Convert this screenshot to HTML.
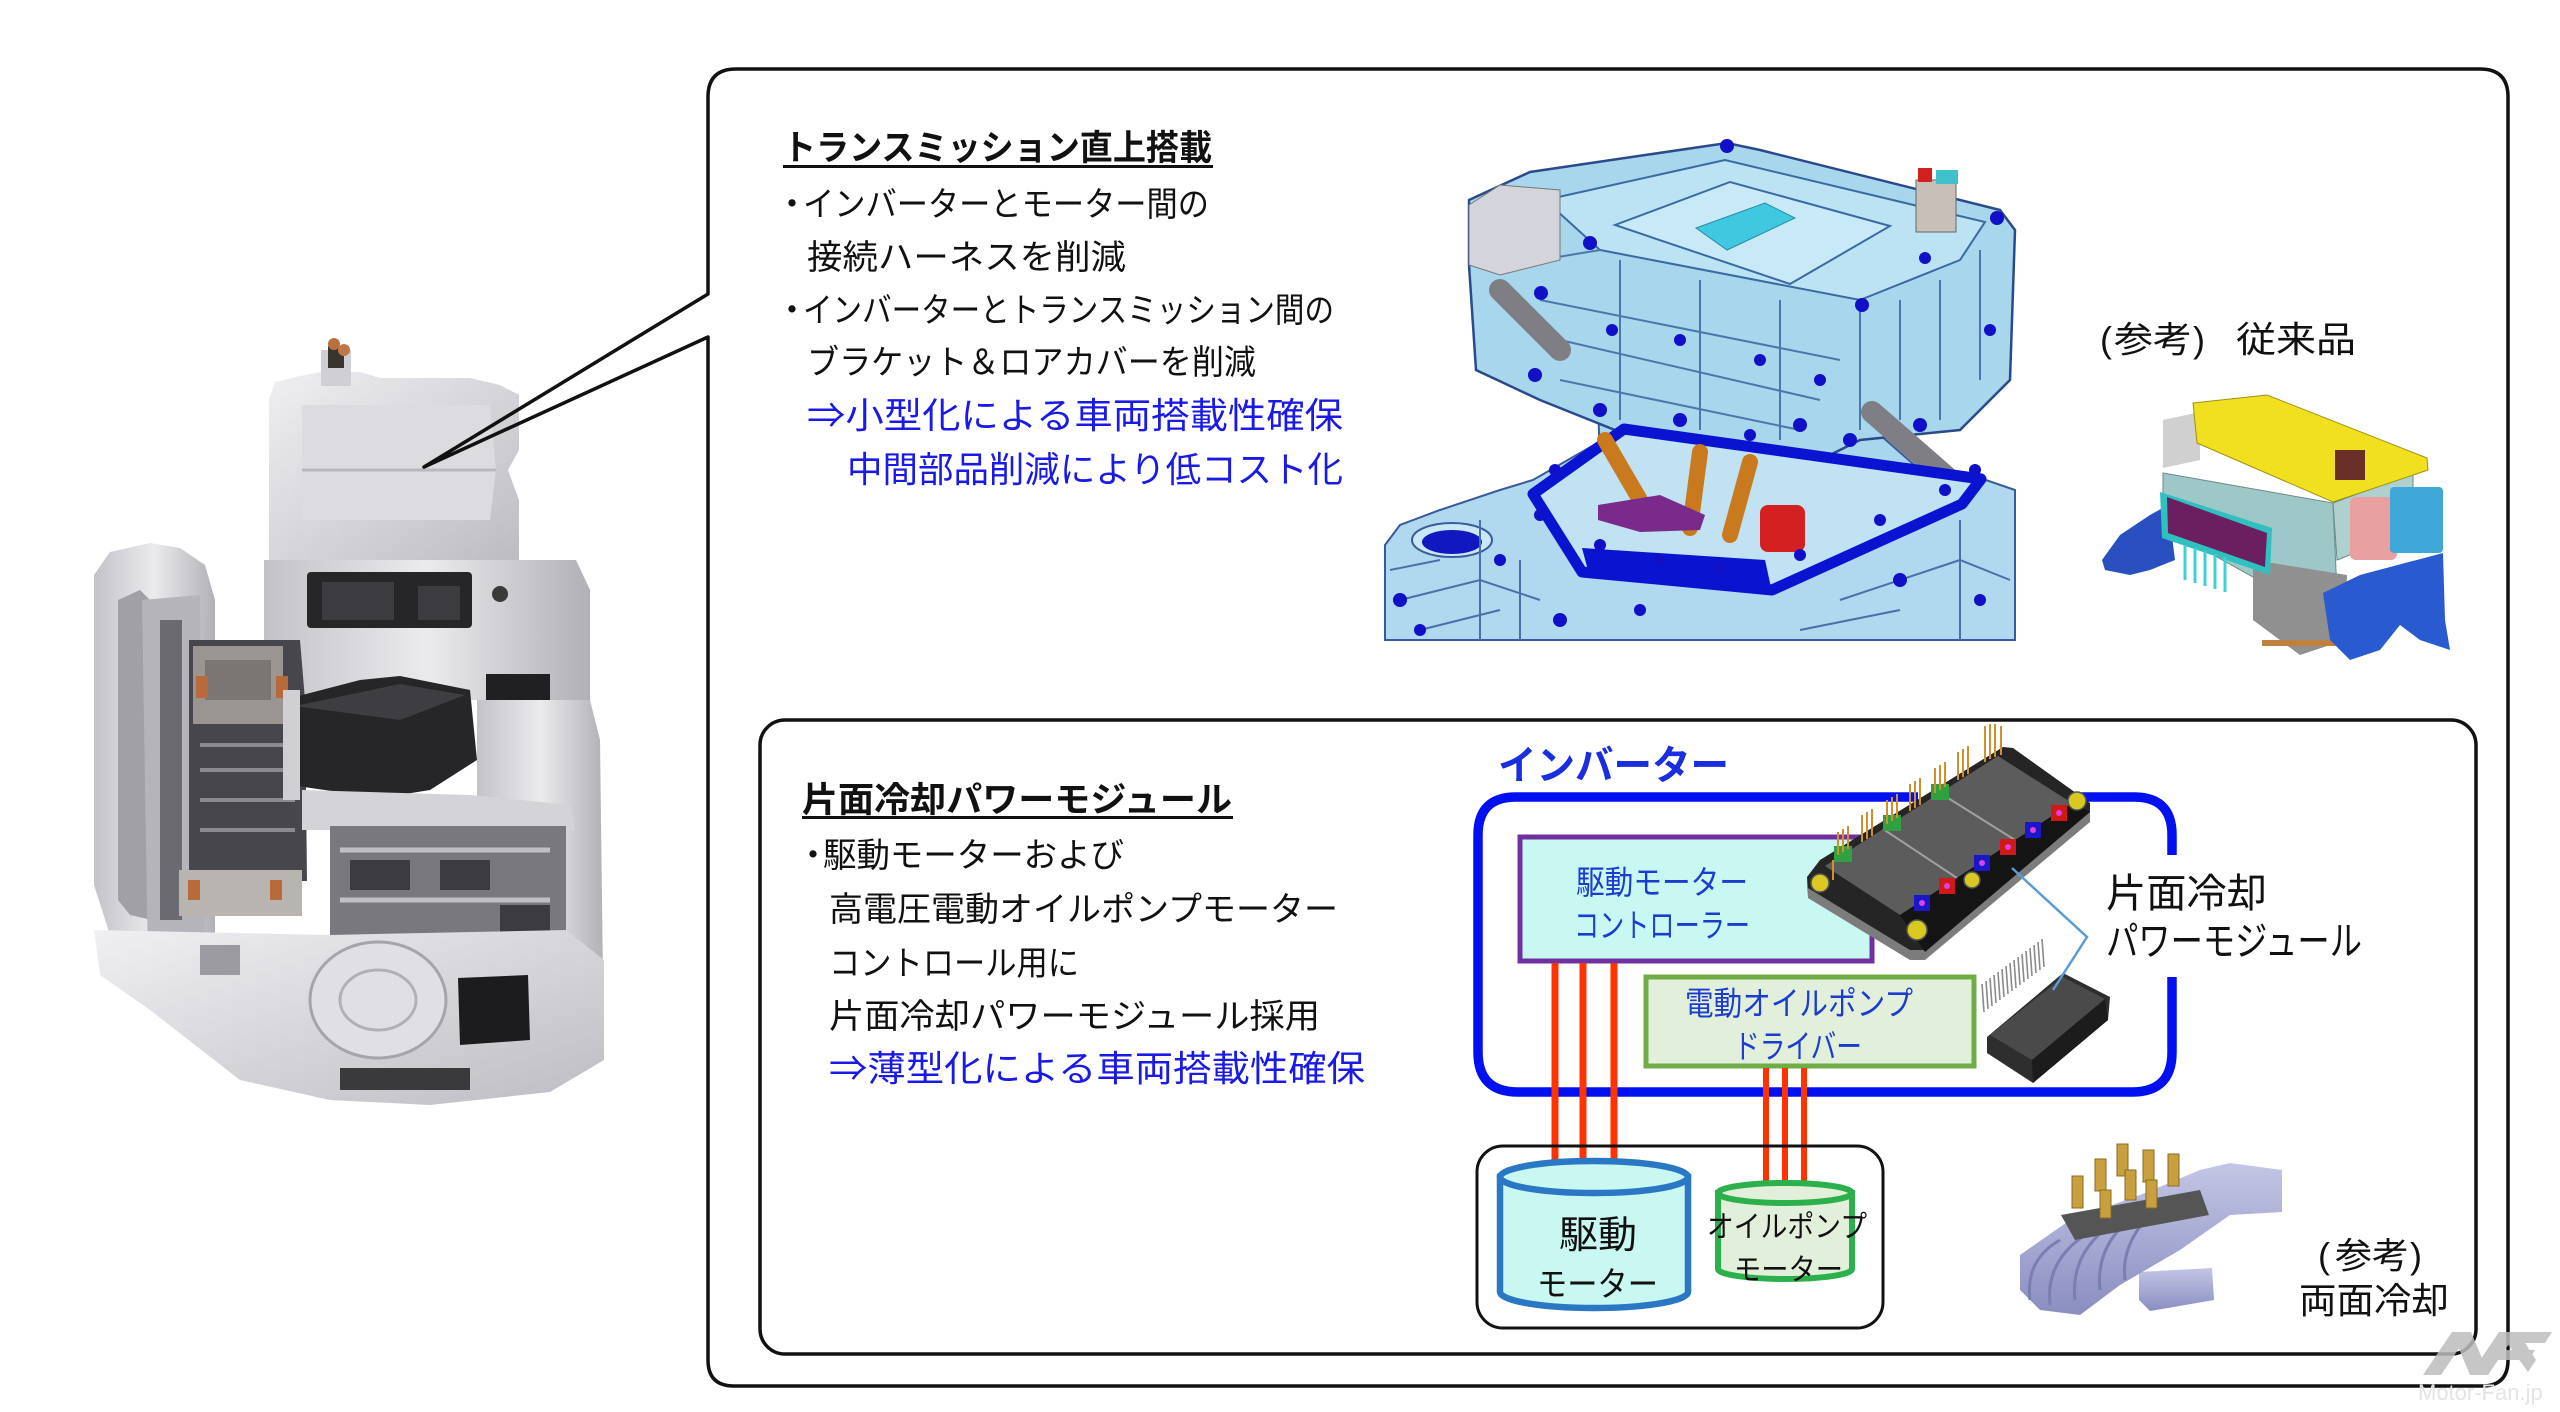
<!DOCTYPE html>
<html><head><meta charset="utf-8">
<style>
html,body{margin:0;padding:0;background:#fff;}
svg{display:block;}
</style></head>
<body>
<svg width="2560" height="1412" viewBox="0 0 2560 1412" xmlns="http://www.w3.org/2000/svg">
<defs>
<linearGradient id="metal" x1="0" y1="0" x2="1" y2="1"><stop offset="0" stop-color="#f0f0f3"/><stop offset="1" stop-color="#bcbcc2"/></linearGradient>
<linearGradient id="metal2" x1="0" y1="0" x2="1" y2="0"><stop offset="0" stop-color="#c2c2c8"/><stop offset=".5" stop-color="#ebebee"/><stop offset="1" stop-color="#b0b0b6"/></linearGradient>
<linearGradient id="tube" x1="0" y1="0" x2="0" y2="1"><stop offset="0" stop-color="#c4c6e6"/><stop offset="1" stop-color="#8a8ec0"/></linearGradient>
</defs>
<rect width="2560" height="1412" fill="#fff"/>

<!-- ===== ENGINE (left) ===== -->
<g>
<!-- upper inverter block -->
<polygon points="269,400 275,382 300,376 320,372 360,372 380,378 470,378 500,385 519,395 519,450 508,470 519,500 519,560 269,560" fill="url(#metal)"/>
<polygon points="302,405 490,405 496,470 490,520 302,520" fill="#dcdce0"/>
<line x1="302" y1="470" x2="496" y2="470" stroke="#b8b8be" stroke-width="3"/>
<rect x="321" y="350" width="30" height="36" fill="#d0d0d4"/>
<rect x="328" y="346" width="16" height="22" fill="#3a3430"/>
<circle cx="334" cy="344" r="6" fill="#b87040"/>
<circle cx="344" cy="350" r="6" fill="#c07848"/>
<!-- middle block -->
<polygon points="264,560 576,560 590,590 590,700 264,700" fill="url(#metal2)"/>
<rect x="307" y="572" width="165" height="56" rx="4" fill="#262629"/>
<rect x="322" y="582" width="72" height="38" fill="#3c3c40"/>
<rect x="418" y="586" width="42" height="34" fill="#3c3c40"/>
<circle cx="500" cy="594" r="8" fill="#3a3a3a"/>
<!-- left bell housing -->
<polygon points="94,575 110,552 150,543 180,548 205,565 215,600 215,960 190,975 140,962 110,935 94,885" fill="url(#metal2)"/>
<polygon points="118,600 140,590 150,600 152,920 130,915 118,900" fill="#a0a0a6"/>
<!-- frame and interior -->
<polygon points="142,600 200,595 205,960 148,965" fill="#b4b4ba"/>
<rect x="160" y="620" width="22" height="300" fill="#6a6a70"/>
<polygon points="189,640 300,640 305,700 307,881 189,881" fill="#46464c"/>
<rect x="193" y="646" width="90" height="78" fill="#9a9590"/>
<rect x="205" y="660" width="66" height="40" fill="#7a7672"/>
<rect x="196" y="676" width="12" height="22" fill="#b86a3a"/>
<rect x="276" y="676" width="12" height="22" fill="#b86a3a"/>
<g stroke="#8a8a90" stroke-width="4"><line x1="200" y1="745" x2="295" y2="745"/><line x1="200" y1="770" x2="295" y2="770"/><line x1="200" y1="800" x2="295" y2="800"/><line x1="200" y1="830" x2="295" y2="830"/></g>
<rect x="179" y="870" width="123" height="46" fill="#b8b4b0"/>
<rect x="188" y="880" width="12" height="20" fill="#b86a3a"/>
<rect x="270" y="880" width="12" height="20" fill="#b86a3a"/>
<!-- ECU cover -->
<polygon points="283,700 360,680 400,676 470,690 477,760 430,790 380,798 290,785" fill="#262629"/>
<polygon points="295,706 400,684 465,695 400,720" fill="#3e3e42"/>
<polygon points="283,690 300,690 300,800 283,800" fill="#d0d0d4"/>
<rect x="486" y="674" width="64" height="54" fill="#202022"/>
<!-- right housing -->
<polygon points="477,700 590,700 600,740 604,1060 560,1070 477,1060" fill="url(#metal2)"/>
<!-- valve body area -->
<polygon points="302,790 470,795 570,805 575,830 302,830" fill="#d4d4d8"/>
<polygon points="330,826 566,826 566,940 330,940" fill="#78787e"/>
<g stroke="#c0c0c4" stroke-width="5"><line x1="340" y1="850" x2="550" y2="850"/><line x1="340" y1="900" x2="550" y2="900"/></g>
<g fill="#3c3c40"><rect x="350" y="860" width="60" height="30"/><rect x="440" y="860" width="50" height="30"/><rect x="500" y="905" width="50" height="28"/></g>
<!-- bottom -->
<polygon points="94,930 330,935 566,930 604,960 604,1060 550,1092 430,1105 330,1100 240,1080 150,1010 100,975" fill="url(#metal)"/>
<ellipse cx="378" cy="1000" rx="68" ry="58" fill="#e0e0e4" stroke="#a4a4aa" stroke-width="3"/>
<ellipse cx="378" cy="1000" rx="38" ry="30" fill="none" stroke="#b0b0b6" stroke-width="3"/>
<polygon points="458,978 528,975 530,1040 460,1045" fill="#1c1c1e"/>
<rect x="340" y="1068" width="130" height="22" fill="#3a3a3c"/>
<rect x="200" y="945" width="40" height="30" fill="#9a9aa0"/>
</g>

<!-- ===== BOXES ===== -->
<path d="M708,337 L424,467 L708,294 L708,97 Q708,69 736,69 L2480,69 Q2508,69 2508,97 L2508,1360 Q2508,1386 2482,1386 L734,1386 Q708,1386 708,1360 Z" fill="none" stroke="#111" stroke-width="3.5" stroke-linejoin="round"/>
<rect x="760" y="720" width="1716" height="634" rx="25" fill="none" stroke="#111" stroke-width="3.5"/>

<!-- ===== TOP CAD IMAGE ===== -->
<g>
<polygon points="1385,640 1385,545 1400,525 1440,510 1500,490 1533,480 1620,430 1700,440 1980,478 2015,490 2015,640" fill="#b0d8ee" stroke="#3a5a9a" stroke-width="2"/>
<ellipse cx="1452" cy="540" rx="40" ry="17" fill="#c8e8f6" stroke="#3a5a9a" stroke-width="2"/>
<ellipse cx="1452" cy="542" rx="30" ry="12" fill="#1018c0"/>
<path d="M1400,600 L1480,580 L1540,600 M1420,630 L1500,610 M1840,600 L1960,560 L2010,580 M1800,630 L1900,610 M1390,570 L1440,560 M1480,520 L1480,640 M1520,560 L1520,640 M1960,520 L1960,640" stroke="#4a70a8" stroke-width="2" fill="none"/>
<!-- middle connecting part -->
<polygon points="1598,397 1863,420 1920,470 1900,490 1600,470" fill="#a8d6ec" stroke="#3a5a9a" stroke-width="2"/>
<polygon points="1469,200 1530,172 1727,143 1760,150 2000,210 2015,230 2010,380 1960,430 1860,440 1800,470 1640,440 1540,400 1476,370 1469,265" fill="#a8d6ec" stroke="#2a4a8a" stroke-width="2.5"/>
<polygon points="1545,200 1725,160 1985,222 1960,260 1860,300 1600,250" fill="#bce3f4" stroke="#3a6aa0" stroke-width="2"/>
<polygon points="1615,225 1730,182 1890,226 1790,284" fill="#c8eaf8" stroke="#3a6aa0" stroke-width="2"/>
<polygon points="1696,228 1765,203 1795,218 1727,250" fill="#40c8e0" stroke="#2a8aa0"/>
<path d="M1540,300 L1840,360 M1560,340 L1820,400 M1620,260 L1620,420 M1700,280 L1700,430 M1780,300 L1780,440 M1900,300 L1900,420 M1540,260 L1600,250 M1860,300 L1860,430 M1940,280 L1940,420 M1980,250 L1980,380 M1560,380 L1800,430" stroke="#4a78a8" stroke-width="2" fill="none"/>
<polygon points="1469,205 1500,185 1560,190 1560,260 1500,275 1469,265" fill="#d4d4dc" stroke="#777"/>
<rect x="1916" y="180" width="40" height="52" fill="#c8c0b8" stroke="#666"/>
<rect x="1918" y="168" width="14" height="14" fill="#d02020"/>
<rect x="1936" y="170" width="22" height="14" fill="#40c0c8"/>
<line x1="1500" y1="290" x2="1560" y2="350" stroke="#7e7e84" stroke-width="22" stroke-linecap="round"/>
<line x1="1872" y1="412" x2="1950" y2="480" stroke="#7e7e84" stroke-width="22" stroke-linecap="round"/>
<polygon points="1533,494 1624,429 1981,479 1962,504 1772,590 1582,572" fill="#c0e2f2" stroke="#0a14d0" stroke-width="11" stroke-linejoin="round"/>
<polygon points="1582,548 1765,560 1772,592 1590,578" fill="#0a14d0"/>
<line x1="1605" y1="440" x2="1640" y2="500" stroke="#c97a1e" stroke-width="16" stroke-linecap="round"/>
<line x1="1700" y1="452" x2="1690" y2="528" stroke="#c97a1e" stroke-width="16" stroke-linecap="round"/>
<line x1="1750" y1="462" x2="1730" y2="535" stroke="#c97a1e" stroke-width="16" stroke-linecap="round"/>
<polygon points="1598,505 1660,495 1705,515 1700,530 1640,532 1598,520" fill="#7a2a8a"/>
<rect x="1760" y="505" width="45" height="47" rx="8" fill="#d42020"/>
<g fill="#1010c8">
<circle cx="1727" cy="146" r="7"/><circle cx="1997" cy="218" r="7"/><circle cx="1590" cy="243" r="7"/><circle cx="1541" cy="293" r="7"/><circle cx="1862" cy="305" r="7"/><circle cx="1925" cy="258" r="6"/><circle cx="1990" cy="330" r="6"/><circle cx="1535" cy="375" r="7"/><circle cx="1600" cy="410" r="7"/><circle cx="1680" cy="420" r="7"/><circle cx="1750" cy="435" r="6"/><circle cx="1800" cy="425" r="7"/><circle cx="1850" cy="440" r="7"/><circle cx="1920" cy="425" r="7"/><circle cx="1975" cy="470" r="6"/><circle cx="1555" cy="470" r="6"/><circle cx="1540" cy="515" r="6"/><circle cx="1600" cy="545" r="6"/><circle cx="1660" cy="560" r="6"/><circle cx="1720" cy="568" r="6"/><circle cx="1800" cy="555" r="6"/><circle cx="1880" cy="520" r="6"/><circle cx="1945" cy="490" r="6"/><circle cx="1400" cy="600" r="7"/><circle cx="1560" cy="620" r="7"/><circle cx="1640" cy="610" r="6"/><circle cx="1900" cy="580" r="7"/><circle cx="1980" cy="600" r="6"/><circle cx="1612" cy="330" r="6"/><circle cx="1680" cy="340" r="6"/><circle cx="1760" cy="360" r="6"/><circle cx="1820" cy="380" r="6"/><circle cx="1420" cy="630" r="6"/><circle cx="1500" cy="560" r="6"/>
</g>
</g>

<!-- ===== CONVENTIONAL PRODUCT ===== -->
<g>
<polygon points="2102,560 2120,535 2150,515 2168,505 2175,560 2150,570 2130,575 2105,570" fill="#2a50c0"/>
<polygon points="2163,473 2333,503 2337,593 2253,577 2163,527" fill="#9ec8c8" stroke="#6a8a8a"/>
<polygon points="2333,503 2413,473 2413,530 2337,560" fill="#b0d0d0" stroke="#6a8a8a"/>
<polygon points="2253,560 2347,575 2345,640 2300,655 2253,620" fill="#909090"/>
<rect x="2262" y="640" width="80" height="6" fill="#c08040"/>
<polygon points="2160,492 2272,528 2270,575 2162,538" fill="#30c0c0"/>
<polygon points="2167,497 2267,533 2265,567 2168,533" fill="#6a2060"/>
<g stroke="#40d0d0" stroke-width="3"><line x1="2185" y1="545" x2="2185" y2="580"/><line x1="2195" y1="548" x2="2195" y2="583"/><line x1="2205" y1="551" x2="2205" y2="586"/><line x1="2215" y1="554" x2="2215" y2="589"/><line x1="2225" y1="557" x2="2225" y2="592"/></g>
<polygon points="2163,420 2200,412 2200,460 2163,468" fill="#d0d0d0"/>
<polygon points="2193,403 2267,395 2427,458 2428,470 2333,502 2197,443" fill="#f0e020" stroke="#a09010"/>
<rect x="2335" y="450" width="30" height="30" fill="#6a3028"/>
<rect x="2350" y="497" width="47" height="63" rx="6" fill="#e8a0a0"/>
<rect x="2390" y="487" width="53" height="66" rx="4" fill="#40a8d8"/>
<polygon points="2323,593 2360,575 2443,553 2445,620 2450,650 2420,640 2400,625 2380,650 2350,660 2330,640" fill="#2a5ad0"/>
</g>

<!-- ===== INVERTER DIAGRAM ===== -->
<path d="M2172,855 L2172,835 Q2172,797 2134,797 L1516,797 Q1478,797 1478,835 L1478,1052 Q1478,1092 1518,1092 L2132,1092 Q2172,1092 2172,1052 L2172,977" fill="none" stroke="#0010f0" stroke-width="9.5"/>
<rect x="1520" y="837" width="352" height="124" fill="#c9f7f1" stroke="#7030a0" stroke-width="5"/>
<rect x="1646" y="977" width="328" height="89" fill="#e2efda" stroke="#70ad47" stroke-width="5"/>
<g stroke="#ff3300" stroke-width="7">
<line x1="1555" y1="963" x2="1555" y2="1172"/><line x1="1583" y1="963" x2="1583" y2="1172"/><line x1="1614" y1="963" x2="1614" y2="1172"/>
</g>
<g stroke="#ff3300" stroke-width="6">
<line x1="1766" y1="1068" x2="1766" y2="1196"/><line x1="1785" y1="1068" x2="1785" y2="1196"/><line x1="1804" y1="1068" x2="1804" y2="1196"/>
</g>
<rect x="1477" y="1146" width="406" height="182" rx="26" fill="none" stroke="#111" stroke-width="3"/>
<path d="M1500,1177 L1500,1292 A94,16 0 0 0 1688,1292 L1688,1177 Z" fill="#c9f7f1" stroke="#2a78c4" stroke-width="6.5"/>
<ellipse cx="1594" cy="1177" rx="94" ry="16" fill="#c9f7f1" stroke="#2a78c4" stroke-width="6.5"/>
<path d="M1718,1193 L1718,1269 A67,10 0 0 0 1852,1269 L1852,1193 Z" fill="#e2efda" stroke="#2cb04c" stroke-width="6"/>
<ellipse cx="1785" cy="1193" rx="67" ry="10" fill="#e2efda" stroke="#2cb04c" stroke-width="6"/>

<!-- power module -->
<rect x="1918" y="789" width="160" height="14" fill="#fff"/>
<polygon points="1807,877 1820,860 2003,747 2013,748 2090,803 2090,820 1925,958 1910,958 1808,897" fill="#252525"/>
<polygon points="1808,888 1910,950 1925,950 2090,812 2090,822 1925,960 1910,960 1808,898" fill="#7c7c7c"/>
<polygon points="1825,866 1998,756 2072,803 1900,915" fill="#5c5c5c"/>
<g stroke="#a0a0a0" stroke-width="2"><line x1="1883" y1="829" x2="1957" y2="878"/><line x1="1940" y1="793" x2="2015" y2="840"/></g>
<polygon points="1900,915 2072,803 2090,812 1925,952" fill="#141414"/>
<g fill="#1818c8"><rect x="1914" y="895" width="16" height="16"/><rect x="1974" y="855" width="16" height="16"/><rect x="2025" y="822" width="16" height="16"/></g>
<g fill="#d01818"><rect x="1939" y="878" width="16" height="16"/><rect x="2000" y="839" width="16" height="16"/><rect x="2051" y="805" width="16" height="16"/></g>
<g fill="#e040e0"><circle cx="1922" cy="903" r="3"/><circle cx="1947" cy="886" r="3"/><circle cx="1982" cy="863" r="3"/><circle cx="2008" cy="847" r="3"/><circle cx="2033" cy="830" r="3"/><circle cx="2059" cy="813" r="3"/></g>
<g fill="#30a040"><rect x="1834" y="846" width="18" height="16"/><rect x="1883" y="815" width="18" height="16"/><rect x="1931" y="784" width="18" height="16"/></g>
<g stroke="#d09030" stroke-width="2">
<line x1="1838" y1="855" x2="1838" y2="832"/><line x1="1843" y1="852" x2="1843" y2="829"/><line x1="1848" y1="849" x2="1848" y2="826"/>
<line x1="1862" y1="842" x2="1862" y2="815"/><line x1="1867" y1="839" x2="1867" y2="812"/><line x1="1872" y1="836" x2="1872" y2="809"/>
<line x1="1887" y1="824" x2="1887" y2="800"/><line x1="1892" y1="821" x2="1892" y2="797"/><line x1="1897" y1="818" x2="1897" y2="794"/>
<line x1="1910" y1="811" x2="1910" y2="784"/><line x1="1915" y1="808" x2="1915" y2="781"/><line x1="1920" y1="805" x2="1920" y2="778"/>
<line x1="1935" y1="793" x2="1935" y2="768"/><line x1="1940" y1="790" x2="1940" y2="765"/><line x1="1945" y1="787" x2="1945" y2="762"/>
<line x1="1958" y1="780" x2="1958" y2="752"/><line x1="1963" y1="777" x2="1963" y2="749"/><line x1="1968" y1="774" x2="1968" y2="746"/>
<line x1="1985" y1="762" x2="1985" y2="726"/><line x1="1990" y1="759" x2="1990" y2="724"/><line x1="1995" y1="757" x2="1995" y2="724"/><line x1="2001" y1="755" x2="2001" y2="726"/>
<line x1="1833" y1="880" x2="1833" y2="860"/>
</g>
<g fill="#d8c820" stroke="#555" stroke-width="1.5"><circle cx="1820" cy="883" r="9"/><circle cx="1917" cy="930" r="10"/><circle cx="2077" cy="801" r="9"/><circle cx="1972" cy="880" r="8"/></g>

<!-- IPM -->
<g stroke="#8a8a8a" stroke-width="1.6">
<line x1="1984" y1="1012" x2="1982" y2="984"/><line x1="1988" y1="1009" x2="1986" y2="981"/><line x1="1992" y1="1006" x2="1990" y2="978"/><line x1="1996" y1="1003" x2="1994" y2="975"/><line x1="2000" y1="1000" x2="1998" y2="972"/><line x1="2004" y1="997" x2="2002" y2="969"/><line x1="2008" y1="994" x2="2006" y2="966"/><line x1="2012" y1="991" x2="2010" y2="963"/><line x1="2016" y1="988" x2="2014" y2="960"/><line x1="2020" y1="985" x2="2018" y2="957"/><line x1="2024" y1="982" x2="2022" y2="954"/><line x1="2028" y1="979" x2="2026" y2="951"/><line x1="2032" y1="976" x2="2030" y2="948"/><line x1="2036" y1="973" x2="2034" y2="945"/><line x1="2040" y1="970" x2="2038" y2="942"/><line x1="2044" y1="967" x2="2042" y2="939"/>
</g>
<polygon points="1987,1037 2063,973 2110,997 2108,1020 2033,1083 1987,1053" fill="#2e2e2e"/>
<polygon points="1990,1035 2063,977 2105,999 2032,1060" fill="#4a4a4a"/>
<polygon points="2032,1060 2105,999 2108,1020 2033,1083" fill="#1c1c1c"/>
<polyline points="2012,868 2087,937 2053,990" fill="none" stroke="#5b9bd5" stroke-width="2.5"/>

<!-- double-side cooling -->
<g>
<polygon points="2139,1272 2212,1268 2214,1300 2150,1311 2139,1300" fill="url(#tube)"/>
<polygon points="2020,1255 2070,1220 2140,1195 2200,1170 2230,1163 2282,1170 2282,1212 2230,1215 2180,1250 2120,1285 2080,1315 2040,1310 2020,1290" fill="url(#tube)"/>
<g fill="none" stroke="#7a7eb0" stroke-width="3"><path d="M2030,1300 Q2025,1260 2060,1240"/><path d="M2050,1305 Q2045,1262 2085,1235"/><path d="M2075,1300 Q2070,1255 2110,1225"/><path d="M2100,1290 Q2095,1245 2135,1215"/><path d="M2125,1280 Q2120,1240 2160,1205"/></g>
<polygon points="2061,1215 2200,1190 2209,1215 2075,1240" fill="#555"/>
<g fill="#c8a040" stroke="#8a6a20"><rect x="2072" y="1176" width="11" height="32"/><rect x="2095" y="1159" width="11" height="32"/><rect x="2117" y="1144" width="11" height="32"/><rect x="2143" y="1150" width="11" height="32"/><rect x="2168" y="1154" width="11" height="32"/><rect x="2100" y="1190" width="11" height="28"/><rect x="2125" y="1170" width="11" height="30"/><rect x="2146" y="1180" width="11" height="28"/></g>
</g>

<!-- watermark -->
<g fill="#bdbdbd" opacity="0.85">
<polygon points="2423,1375 2441,1375 2470,1332 2452,1332"/>
<polygon points="2452,1332 2471,1332 2489,1375 2470,1375"/>
<polygon points="2470,1375 2488,1375 2517,1332 2499,1332"/>
<polygon points="2499,1332 2518,1332 2536,1360 2528,1372"/>
<polygon points="2505,1332 2552,1332 2545,1343 2498,1343"/>
<polygon points="2498,1350 2535,1350 2529,1360 2492,1360"/>
</g>
<text x="2418" y="1400" font-family="Liberation Sans, sans-serif" font-size="22" fill="#e4e4e4">Motor-Fan.jp</text>

<!-- ===== TEXT ===== -->
<g font-family="Liberation Sans, Noto Sans CJK JP, sans-serif">
<!-- top block -->
<text x="783" y="160" font-size="35" font-weight="bold" fill="#111" textLength="429" lengthAdjust="spacingAndGlyphs">トランスミッション直上搭載</text>
<rect x="783" y="165" width="430" height="3" fill="#111"/>
<text x="775" y="216" font-size="34" fill="#111">・</text>
<text x="803" y="216" font-size="34" fill="#111" textLength="406" lengthAdjust="spacingAndGlyphs">インバーターとモーター間の</text>
<text x="807" y="269" font-size="34" fill="#111" textLength="319" lengthAdjust="spacingAndGlyphs">接続ハーネスを削減</text>
<text x="775" y="322" font-size="34" fill="#111">・</text>
<text x="803" y="322" font-size="34" fill="#111" textLength="531" lengthAdjust="spacingAndGlyphs">インバーターとトランスミッション間の</text>
<text x="807" y="374" font-size="34" fill="#111" textLength="449" lengthAdjust="spacingAndGlyphs">ブラケット＆ロアカバーを削減</text>
<text x="807" y="428" font-size="36" fill="#1a1ae6" textLength="536" lengthAdjust="spacingAndGlyphs">⇒小型化による車両搭載性確保</text>
<text x="847" y="482" font-size="36" fill="#1a1ae6" textLength="496" lengthAdjust="spacingAndGlyphs">中間部品削減により低コスト化</text>

<!-- bottom block -->
<text x="802" y="812" font-size="35" font-weight="bold" fill="#111" textLength="430" lengthAdjust="spacingAndGlyphs">片面冷却パワーモジュール</text>
<rect x="802" y="816" width="431" height="3" fill="#111"/>
<text x="796" y="867" font-size="34" fill="#111">・</text>
<text x="823" y="867" font-size="34" fill="#111" textLength="301" lengthAdjust="spacingAndGlyphs">駆動モーターおよび</text>
<text x="829" y="921" font-size="34" fill="#111" textLength="509" lengthAdjust="spacingAndGlyphs">高電圧電動オイルポンプモーター</text>
<text x="829" y="975" font-size="34" fill="#111" textLength="250" lengthAdjust="spacingAndGlyphs">コントロール用に</text>
<text x="829" y="1028" font-size="34" fill="#111" textLength="491" lengthAdjust="spacingAndGlyphs">片面冷却パワーモジュール採用</text>
<text x="829" y="1081" font-size="36" fill="#1a1ae6" textLength="536" lengthAdjust="spacingAndGlyphs">⇒薄型化による車両搭載性確保</text>

<!-- inverter labels -->
<text x="1498" y="779" font-size="40" font-weight="bold" fill="#1a2ee0" textLength="231" lengthAdjust="spacingAndGlyphs">インバーター</text>
<text x="1576" y="894" font-size="33" fill="#1c3cd0" textLength="172" lengthAdjust="spacingAndGlyphs">駆動モーター</text>
<text x="1574" y="937" font-size="33" fill="#1c3cd0" textLength="176" lengthAdjust="spacingAndGlyphs">コントローラー</text>
<text x="1685" y="1015" font-size="33" fill="#1c3cd0" textLength="228" lengthAdjust="spacingAndGlyphs">電動オイルポンプ</text>
<text x="1734" y="1058" font-size="33" fill="#1c3cd0" textLength="128" lengthAdjust="spacingAndGlyphs">ドライバー</text>
<text x="1559" y="1248" font-size="38" fill="#111" textLength="78" lengthAdjust="spacingAndGlyphs">駆動</text>
<text x="1537" y="1296" font-size="34" fill="#111" textLength="121" lengthAdjust="spacingAndGlyphs">モーター</text>
<text x="1707" y="1237" font-size="30" fill="#111" textLength="160" lengthAdjust="spacingAndGlyphs">オイルポンプ</text>
<text x="1734" y="1280" font-size="30" fill="#111" textLength="109" lengthAdjust="spacingAndGlyphs">モーター</text>

<!-- right labels -->
<text x="2100" y="352" font-size="36" fill="#111">(</text>
<text x="2114" y="352" font-size="36" fill="#111" textLength="78" lengthAdjust="spacingAndGlyphs">参考</text>
<text x="2193" y="352" font-size="36" fill="#111">)</text>
<text x="2236" y="352" font-size="36" fill="#111" textLength="120" lengthAdjust="spacingAndGlyphs">従来品</text>
<text x="2106" y="907" font-size="40" fill="#111" textLength="161" lengthAdjust="spacingAndGlyphs">片面冷却</text>
<text x="2106" y="955" font-size="40" fill="#111" textLength="256" lengthAdjust="spacingAndGlyphs">パワーモジュール</text>
<text x="2318" y="1268" font-size="36" fill="#111">(</text>
<text x="2335" y="1268" font-size="36" fill="#111" textLength="74" lengthAdjust="spacingAndGlyphs">参考</text>
<text x="2410" y="1268" font-size="36" fill="#111">)</text>
<text x="2299" y="1313" font-size="36" fill="#111" textLength="150" lengthAdjust="spacingAndGlyphs">両面冷却</text>
</g>
</svg>
</body></html>
